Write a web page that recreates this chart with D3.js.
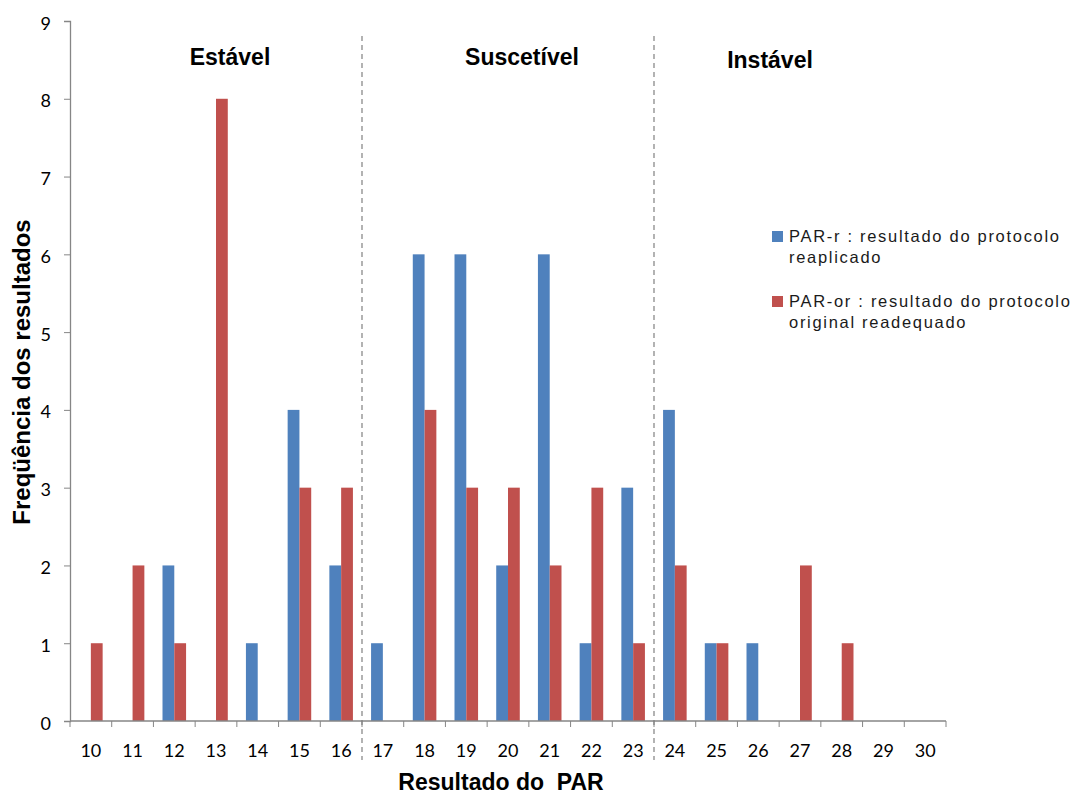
<!DOCTYPE html>
<html><head><meta charset="utf-8">
<script src="https://cdn.jsdelivr.net/npm/d3@7"></script>
<style>body{margin:0;background:#fff}</style>
</head><body><svg id="c" width="1081" height="794"></svg>
<script>
const categories = ["10","11","12","13","14","15","16","17","18","19","20","21","22","23","24","25","26","27","28","29","30"];
const parR  = [0,0,2,0,1,4,2,1,6,6,2,6,1,3,4,1,1,0,0,0,0];
const parOr = [1,2,1,8,0,3,3,0,4,3,3,2,3,1,2,1,0,2,1,0,0];
const seriesNames = ["PAR-r : resultado do protocolo|reaplicado","PAR-or : resultado do protocolo|original readequado"];
const seriesColors = ["#4F81BD","#C0504D"];
const yTicks = [0,1,2,3,4,5,6,7,8,9];
const zoneLabels = ["Estável","Suscetível","Instável"];
const dividers = ["17","24"];

const svg = d3.select("#c");
const x = d3.scaleBand().domain(categories).range([70, 946]).padding(0);
const xs = d3.scaleBand().domain([0,1]).range([0, x.bandwidth()]).paddingInner(0).paddingOuter(0.77);
const y = d3.scaleLinear().domain([0,9]).range([721, 21]);
const axisCol = "#868686";
const tickFont = "Lato, 'Open Sans', sans-serif";
const arial = "'Liberation Sans', Arial, sans-serif";

// bars
const data = categories.map((c,i)=>({c, v:[parR[i], parOr[i]]}));
const g = svg.append("g");
data.forEach(d=>{
  d.v.forEach((v,s)=>{
    if(v<=0) return;
    g.append("rect")
      .attr("x", x(d.c)+xs(s)).attr("width", xs.bandwidth())
      .attr("y", y(v)).attr("height", y(0)-y(v))
      .attr("fill", seriesColors[s]);
  });
});

// y axis
const yAxis = d3.axisLeft(y).tickValues(yTicks).tickSize(6).tickPadding(13).tickFormat(d3.format("d"));
const ya = svg.append("g").attr("transform","translate(70,0)").call(yAxis);
ya.select(".domain").attr("stroke",axisCol).attr("stroke-width",1.3);
ya.selectAll(".tick line").attr("stroke",axisCol);
ya.selectAll("text").attr("font-family",tickFont).attr("font-size",18).attr("fill","#000").attr("dy","0.45em");

// x axis with ticks at category boundaries
const xa = svg.append("g").attr("transform","translate(0,721)");
xa.append("line").attr("x1",70).attr("x2",946).attr("stroke",axisCol).attr("stroke-width",1.3);
const bounds = categories.map(c=>x(c)).concat([x(categories[categories.length-1])+x.bandwidth()]);
xa.selectAll("line.t").data(bounds).enter().append("line").attr("class","t")
  .attr("x1",d=>d).attr("x2",d=>d).attr("y1",0).attr("y2",6).attr("stroke",axisCol);
xa.selectAll("text").data(categories).enter().append("text")
  .attr("x",d=>x(d)+x.bandwidth()/2).attr("y",36).attr("text-anchor","middle")
  .attr("font-family",tickFont).attr("font-size",18).attr("fill","#000").text(d=>d);

// dividers
dividers.forEach(c=>{
  svg.append("line").attr("x1",x(c)).attr("x2",x(c)).attr("y1",36).attr("y2",760)
    .attr("stroke","#808080").attr("stroke-width",1.2).attr("stroke-dasharray","5,4");
});

// zone labels
const zoneX = [230, 522, 770];
const zoneY = [65, 65, 68];
zoneLabels.forEach((z,i)=>{
  svg.append("text").attr("x",zoneX[i]).attr("y",zoneY[i]).attr("text-anchor","middle")
    .attr("font-family",arial).attr("font-weight","bold").attr("font-size",23)
    .text(z);
});

// axis titles
svg.append("text").attr("transform","translate(30,372) rotate(-90)").attr("text-anchor","middle")
  .attr("font-family",arial).attr("font-weight","bold").attr("font-size",24)
  .text("Freqüência dos resultados");
svg.append("text").attr("x",501).attr("y",790).attr("text-anchor","middle")
  .attr("font-family",arial).attr("font-weight","bold").attr("font-size",23)
  .style("white-space","pre")
  .text("Resultado do  PAR");

// legend
const legY = [231, 296];
seriesNames.forEach((n,i)=>{
  svg.append("rect").attr("x",772).attr("y",legY[i]).attr("width",11).attr("height",11).attr("fill",seriesColors[i]);
  n.split("|").forEach((line,j)=>{
    svg.append("text").attr("x",789).attr("y",legY[i]+11+j*21)
      .attr("font-family",arial).attr("font-size",16.5).attr("letter-spacing",1.7).attr("fill","#1a1a1a")
      .text(line);
  });
});
</script></body></html>
